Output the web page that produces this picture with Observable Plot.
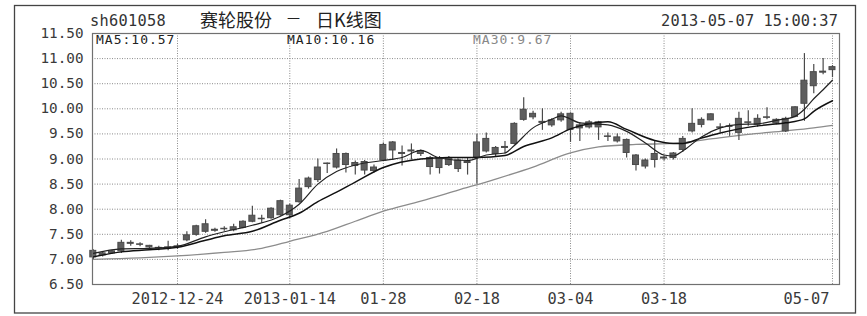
<!DOCTYPE html>
<html><head><meta charset="utf-8">
<script src="https://cdn.jsdelivr.net/npm/d3@7"></script>
<script src="https://cdn.jsdelivr.net/npm/@observablehq/plot@0.6"></script>
<style>
body{margin:0;background:#fff}
svg{display:block}
</style>
</head><body><div id="chart"></div>
<script>
// trading-day index 0..79
const opens  = [7.17,7.08,7.12,7.16,7.31,7.30,7.27,7.23,7.22,7.25,7.38,7.49,7.70,7.57,7.60,7.58,7.63,7.75,7.80,7.82,7.88,8.07,8.14,8.44,8.58,8.91,8.83,9.10,8.86,8.94,8.76,8.97,9.33,9.10,9.15,9.10,9.02,9.02,8.88,8.97,8.92,9.03,9.15,9.22,9.22,9.30,9.78,9.90,9.72,9.67,9.77,9.90,9.61,9.63,9.73,9.45,9.35,9.38,9.07,8.97,8.98,9.01,9.02,9.18,9.55,9.68,9.77,9.62,9.64,9.52,9.72,9.68,9.82,9.78,9.80,9.84,10.10,10.45,10.72,10.77];
const closes = [7.04,7.12,7.16,7.33,7.33,7.29,7.24,7.22,7.24,7.26,7.48,7.66,7.55,7.59,7.61,7.64,7.75,7.87,7.81,8.01,8.16,7.88,8.41,8.61,8.83,8.90,9.10,8.88,8.92,8.77,8.83,9.28,9.17,9.12,9.17,9.16,8.84,8.82,9.02,8.80,8.94,9.33,9.40,9.10,9.24,9.70,9.98,9.83,9.74,9.77,9.89,9.58,9.67,9.73,9.63,9.44,9.43,9.12,8.88,8.85,9.10,9.03,9.11,9.40,9.70,9.78,9.89,9.63,9.65,9.80,9.73,9.80,9.83,9.71,9.55,10.03,10.56,10.73,10.74,10.83];
const highs  = [7.19,7.14,7.18,7.38,7.37,7.33,7.28,7.26,7.36,7.30,7.55,7.68,7.79,7.62,7.65,7.70,7.77,8.06,7.88,8.03,8.18,8.10,8.59,8.64,9.00,8.92,9.20,9.12,8.96,8.97,8.88,9.32,9.35,9.26,9.30,9.18,9.05,9.05,9.05,9.00,9.03,9.49,9.52,9.25,9.35,9.72,10.22,9.95,10.00,9.80,9.93,9.92,9.72,9.76,9.75,9.52,9.50,9.40,9.09,9.00,9.35,9.06,9.13,9.45,10.00,9.82,9.90,9.70,9.70,9.93,9.96,9.88,10.02,9.80,9.83,10.04,11.10,10.88,11.00,10.86];
const lows   = [7.00,7.05,7.10,7.12,7.26,7.25,7.20,7.17,7.17,7.20,7.35,7.46,7.52,7.54,7.56,7.55,7.61,7.73,7.72,7.80,7.86,7.84,8.12,8.40,8.53,8.71,8.80,8.72,8.68,8.68,8.72,8.95,8.97,8.86,8.98,9.05,8.68,8.70,8.85,8.73,8.68,8.50,9.12,9.05,9.10,9.28,9.75,9.78,9.57,9.63,9.73,9.33,9.35,9.60,9.37,9.35,9.32,9.02,8.76,8.80,8.82,8.96,8.98,9.13,9.52,9.62,9.76,9.52,9.45,9.37,9.65,9.63,9.78,9.68,9.53,9.82,9.75,10.30,10.68,10.62];

const ma5Idx = [0,3,6,9,12,14,17,20,22,24,26,28,31,33,35,37,40,42,44,45,47,49,50,52,55,57,59,61,62,63,65,67,69,71,73,75,76,77,78,79];
const ma5Val = [7.12,7.21,7.22,7.26,7.45,7.55,7.68,7.86,8.10,8.50,8.75,8.88,8.97,9.03,9.17,9.02,8.97,9.08,9.12,9.27,9.62,9.79,9.86,9.72,9.68,9.55,9.32,9.08,9.06,9.16,9.44,9.62,9.69,9.70,9.77,9.85,9.99,10.20,10.38,10.57];
const ma10Idx = [0,3,6,9,12,14,17,20,22,24,26,28,31,35,38,41,44,46,49,51,53,55,57,60,62,63,65,67,69,71,74,76,77,79];
const ma10Val = [7.05,7.15,7.19,7.24,7.38,7.47,7.56,7.78,7.92,8.15,8.34,8.54,8.83,9.00,9.03,9.03,9.07,9.25,9.42,9.60,9.70,9.74,9.59,9.37,9.31,9.31,9.42,9.52,9.60,9.66,9.72,9.80,9.95,10.16];
const ma30Idx = [0,5,9,14,18,21,25,28,31,35,39,43,47,51,54,58,62,66,70,74,77,79];
const ma30Val = [7.00,7.03,7.07,7.14,7.22,7.36,7.56,7.76,7.96,8.16,8.38,8.60,8.84,9.12,9.24,9.29,9.31,9.40,9.49,9.56,9.62,9.67];

const tickIdx = [9,21,31,41,51,61,79];
const tickLabels = ["2012-12-24","2013-01-14","01-28","02-18","03-04","03-18","05-07"];
const yTicks = [6.5,7,7.5,8,8.5,9,9.5,10,10.5,11,11.5];

const maLabels = ["MA5:10.57","MA10:10.16","MA30:9.67"];
const code = "sh601058";
const titleParts = ["赛轮股份","—","日K线图"];
const stamp = "2013-05-07 15:00:37";

const candles = opens.map((o,i)=>({i, o, c: closes[i], h: highs[i], l: lows[i]}));
const ma = (idx, val) => idx.map((x,k)=>({x, v: val[k]}));
const xt = tickIdx.map((x,k)=>({x, t: tickLabels[k]}));

const W = 867, H = 316;
const svg = Plot.plot({
  width: W, height: H,
  marginLeft: 92, marginRight: 28, marginTop: 33, marginBottom: 32,
  style: {fontFamily: "DejaVu Sans Mono", fontSize: "14.3px", color: "#3a3a3a", background: "#fff"},
  x: {type: "linear", domain: [-0.085, 79.75], axis: null},
  y: {domain: [6.5, 11.5], axis: null},
  marks: [
    Plot.gridY(yTicks.slice(1, -1), {stroke: "#8a8a8a", strokeOpacity: 1, strokeDasharray: "1,1.5"}),
    Plot.gridX(tickIdx, {stroke: "#8a8a8a", strokeOpacity: 1, strokeDasharray: "1,1.5"}),
    Plot.axisY({ticks: yTicks, tickFormat: d3.format(".2f"), tickSize: 0, tickPadding: 9, fontSize: 14.3}),
    Plot.text(xt.slice(0, -1), {x: "x", text: "t", frameAnchor: "bottom", dy: 9, lineAnchor: "top", fontSize: 15.3, fill: "#3a3a3a"}),
    Plot.text(xt.slice(-1), {x: "x", text: "t", frameAnchor: "bottom", dy: 9, dx: -3, lineAnchor: "top", textAnchor: "end", fontSize: 15.3, fill: "#3a3a3a"}),
    Plot.line(ma(ma30Idx, ma30Val), {x: "x", y: "v", stroke: "#8c8c8c", strokeWidth: 1.3, curve: "monotone-x"}),
    Plot.ruleX(candles, {x: "i", y1: "l", y2: "h", stroke: "#4a4a4a", strokeWidth: 1.2}),
    Plot.rect(candles, {x1: d => d.i - 0.32, x2: d => d.i + 0.32, y1: "o", y2: "c", fill: "#5e5e5e", stroke: "#4a4a4a", strokeWidth: 1}),
    Plot.line(ma(ma10Idx, ma10Val), {x: "x", y: "v", stroke: "#111", strokeWidth: 1.5, curve: "monotone-x"}),
    Plot.line(ma(ma5Idx, ma5Val), {x: "x", y: "v", stroke: "#222", strokeWidth: 1.2, curve: "monotone-x"}),
    Plot.frame({stroke: "#707070", strokeWidth: 1.2})
  ]
});
document.getElementById("chart").appendChild(svg);

const s = d3.select(svg);
s.append("rect").attr("x", 14.5).attr("y", 5.5).attr("width", 841).attr("height", 307.5)
  .attr("fill", "none").attr("stroke", "#444").attr("stroke-width", 1.3);
const g = s.append("g").attr("text-anchor", "start");
const mono = "DejaVu Sans Mono";
g.append("text").attr("x", 90).attr("y", 26).attr("font-family", mono).attr("font-size", 15.3)
  .attr("letter-spacing", 0.3).attr("fill", "#333").text(code);
const cjk = "Noto Sans CJK SC";
g.append("text").attr("x", 200).attr("y", 27).attr("font-family", cjk).attr("font-size", 18).attr("fill", "#222").text(titleParts[0]);
g.append("text").attr("x", 287).attr("y", 22).attr("font-family", "DejaVu Sans").attr("font-size", 13).attr("fill", "#222").text(titleParts[1]);
g.append("text").attr("x", 316).attr("y", 27).attr("font-family", cjk).attr("font-size", 18).attr("fill", "#222").text(titleParts[2]);
g.append("text").attr("x", 838).attr("y", 26).attr("text-anchor", "end").attr("font-family", mono).attr("font-size", 15.3)
  .attr("letter-spacing", 0.1).attr("fill", "#333").text(stamp);
const maX = [96, 287, 473];
const maCol = ["#222", "#222", "#888"];
maLabels.forEach((t, k) => {
  g.append("text").attr("x", maX[k]).attr("y", 44).attr("font-family", mono).attr("font-size", 13)
    .attr("letter-spacing", 1.0).attr("fill", maCol[k]).text(t);
});
</script>
</body></html>
